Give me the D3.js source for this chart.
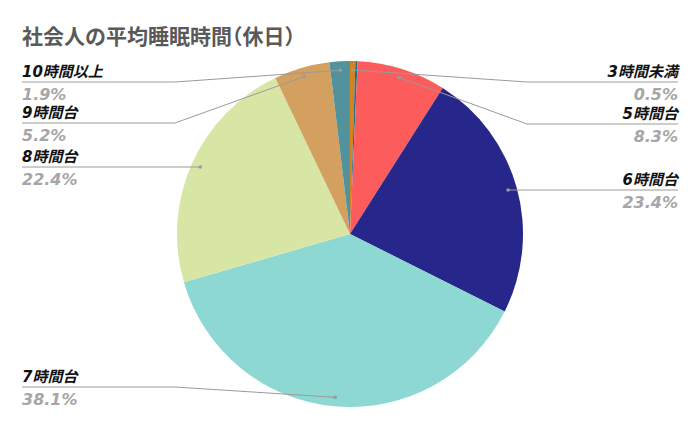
<!DOCTYPE html>
<html><head><meta charset="utf-8">
<script src="https://cdn.jsdelivr.net/npm/d3@7"></script>
<style>html,body{margin:0;padding:0;background:#fff;}</style>
</head><body>
<svg id="chart" width="700" height="429"></svg>
<script>
const title = "社会人の平均睡眠時間（休日）";
const categories = ["3時間未満","4時間台","5時間台","6時間台","7時間台","8時間台","9時間台","10時間以上"];
const values = [0.5, 0.2, 8.3, 23.4, 38.1, 22.4, 5.2, 1.9];
const percentLabels = ["0.5%", "", "8.3%", "23.4%", "38.1%", "22.4%", "5.2%", "1.9%"];
const colors = ["#D4831C","#1E6E8E","#FD5C5C","#27268B","#8ED8D4","#D8E6A5","#D4A060","#52929C"];
// label layout: side and leader-line y for each labelled category
const labelSide = ["right", null, "right", "right", "left", "left", "left", "left"];
const labelLineY = [82, null, 124, 190, 387, 167, 123, 82];

const W = 700, H = 429;
const cx = 350, cy = 234, R = 173, rPoint = 164;
const leftX = 22, rightX = 678, leftElbow = 175, rightElbow = 527;

const svg = d3.select("#chart");
svg.append("text").attr("x", 22).attr("y", 44)
  .attr("font-family", "'Noto Sans CJK JP', sans-serif").attr("font-weight", 700)
  .style("font-feature-settings", "'halt'")
  .attr("font-size", 21).attr("fill", "#595959").text(title);

const data = categories.map((c, i) => ({cat: c, value: values[i], pct: percentLabels[i], color: colors[i], side: labelSide[i], ly: labelLineY[i]}));
const pie = d3.pie().sort(null).value(d => d.value).startAngle(0).endAngle(2 * Math.PI);
const arcs = pie(data);
const arc = d3.arc().innerRadius(0).outerRadius(R);
const pointArc = d3.arc().innerRadius(rPoint).outerRadius(rPoint);

const g = svg.append("g").attr("transform", `translate(${cx},${cy})`);
g.selectAll("path.slice").data(arcs).join("path").attr("class", "slice")
  .attr("d", arc).attr("fill", d => d.data.color);

const lab = svg.append("g");
arcs.filter(a => a.data.side).forEach(a => {
  const [px0, py0] = pointArc.centroid(a);
  const px = px0 + cx, py = py0 + cy;
  const d = a.data;
  let pts;
  if (d.side === "left") {
    pts = (px <= leftElbow + 30) ? [[leftX, d.ly], [px, d.ly]] : [[leftX, d.ly], [leftElbow, d.ly], [px, py]];
  } else {
    pts = (px >= rightElbow - 30) ? [[rightX, d.ly], [px, d.ly]] : [[rightX, d.ly], [rightElbow, d.ly], [px, py]];
  }
  lab.append("path").attr("d", d3.line()(pts)).attr("fill", "none")
    .attr("stroke", "#9a9a9a").attr("stroke-width", 1);
  const end = pts[pts.length - 1];
  lab.append("circle").attr("cx", end[0]).attr("cy", end[1]).attr("r", 1.8).attr("fill", "#9a9a9a");
  const anchor = d.side === "left" ? "start" : "end";
  const tx = d.side === "left" ? leftX : rightX;
  lab.append("text").attr("x", tx).attr("y", d.ly - 5).attr("text-anchor", anchor)
    .attr("font-family", "'DejaVu Sans', 'Noto Sans CJK JP', sans-serif").attr("font-weight", 700)
    .attr("font-style", "italic").attr("font-size", 15).attr("fill", "#111").text(d.cat);
  lab.append("text").attr("x", tx).attr("y", d.ly + 18).attr("text-anchor", anchor)
    .attr("font-family", "'DejaVu Sans', sans-serif").attr("font-weight", 700)
    .attr("font-style", "italic").attr("font-size", 16).attr("fill", "#a6a6a6").text(d.pct);
});
</script>
</body></html>
